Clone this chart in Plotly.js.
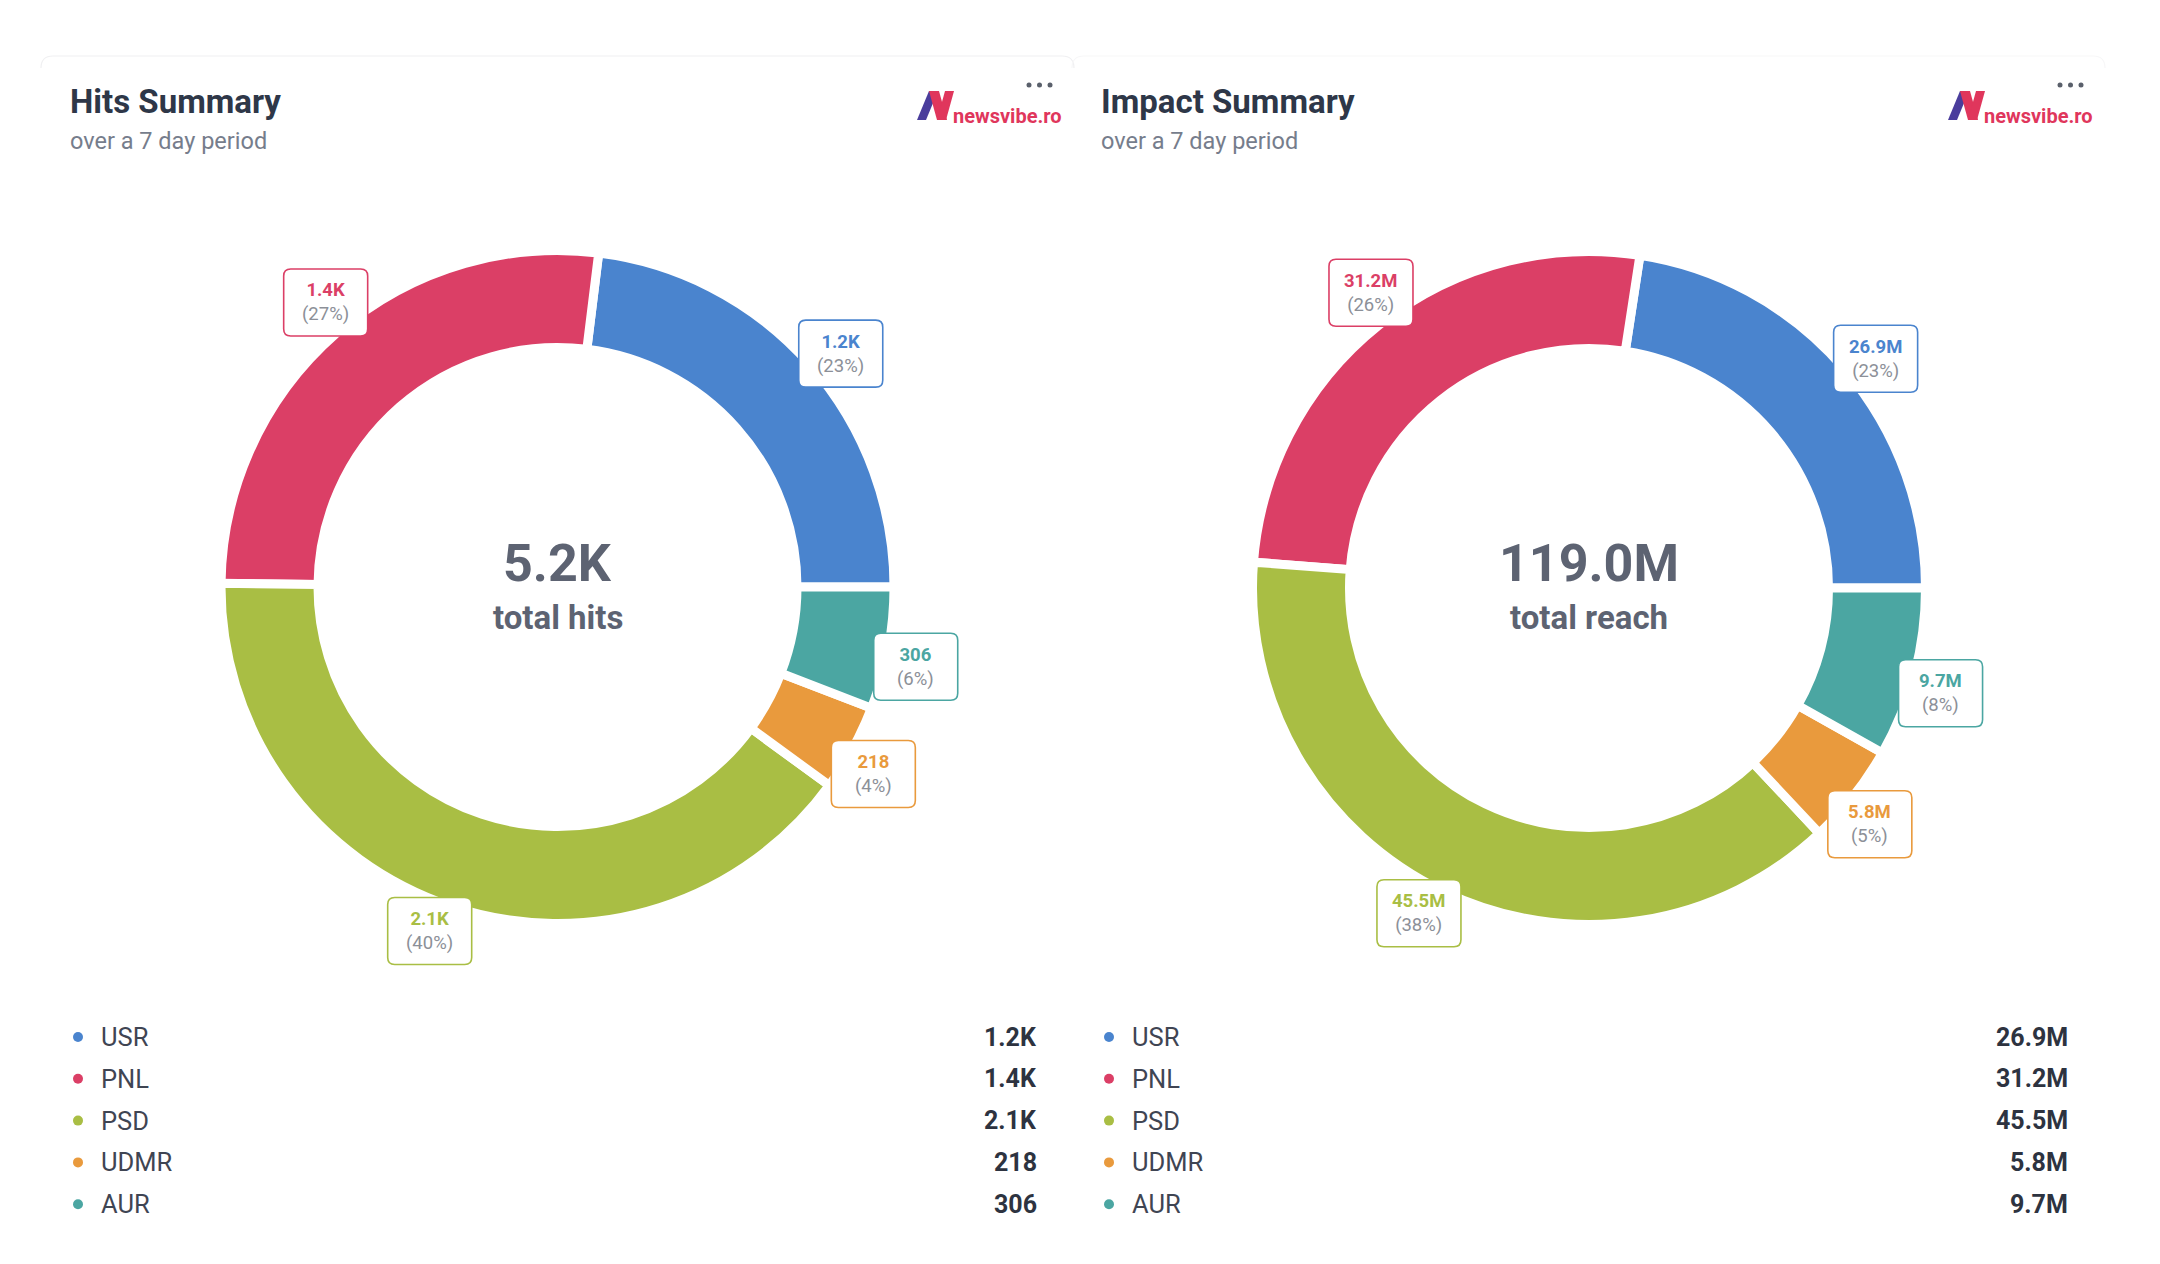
<!DOCTYPE html>
<html>
<head>
<meta charset="utf-8">
<script src="https://cdn.plot.ly/plotly-3.0.1.min.js"></script>
<style>
  html, body { margin: 0; padding: 0; background: #ffffff; }
  #chart { width: 2160px; height: 1264px; }
</style>
</head>
<body>
<div id="chart"></div>
<script>
// ---------- data ----------
const categories = ['USR', 'PNL', 'PSD', 'UDMR', 'AUR'];
const partyColors = ['#4A84CE', '#DB3F66', '#A9BE44', '#E99A3D', '#4BA6A2'];

const hitsTitle = 'Hits Summary';
const hitsSubtitle = 'over a 7 day period';
const hitsValues = [1203, 1398, 2095, 218, 306];
const hitsCenterCaption = 'total hits';

const impactTitle = 'Impact Summary';
const impactSubtitle = 'over a 7 day period';
const impactValues = [26.87, 31.17, 45.48, 5.77, 9.70];   // millions
const impactCenterCaption = 'total reach';

const logoText = 'newsvibe.ro';

// ---------- helpers ----------
const W = 2160, H = 1264;
const FONT = 'Roboto, "Noto Sans", "DejaVu Sans", sans-serif';
const px = x => x / W;
const py = y => 1 - y / H;

function fmtHits(v) { return v >= 1000 ? (v / 1000).toFixed(1) + 'K' : String(Math.round(v)); }
function fmtImpact(v) { return v.toFixed(1) + 'M'; }

const panels = [
  { title: hitsTitle, subtitle: hitsSubtitle, values: hitsValues, fmt: fmtHits,
    caption: hitsCenterCaption, offset: 0, cx: 557.5, cy: 587, cardLine: '#F0F0F2' },
  { title: impactTitle, subtitle: impactSubtitle, values: impactValues, fmt: fmtImpact,
    caption: impactCenterCaption, offset: 1031, cx: 1589, cy: 588, cardLine: '#F7F7F8' }
];

const R = 332;          // visible outer radius (px)
const RIN = 244;        // visible inner radius (px)
const GAP = 9;          // white gap between slices
const LABEL_R = 367;    // label box centre distance

const traces = [];
const annotations = [];
const shapes = [];

function roundRectPath(hw, hh, r) {
  return `M ${-hw + r},${-hh} L ${hw - r},${-hh} Q ${hw},${-hh} ${hw},${-hh + r} ` +
         `L ${hw},${hh - r} Q ${hw},${hh} ${hw - r},${hh} L ${-hw + r},${hh} ` +
         `Q ${-hw},${hh} ${-hw},${hh - r} L ${-hw},${-hh + r} Q ${-hw},${-hh} ${-hw + r},${-hh} Z`;
}

panels.forEach(p => {
  const Rd = R + GAP / 2;
  const hole = (RIN - GAP / 2) / Rd;
  const total = p.values.reduce((a, b) => a + b, 0);
  // plotly's counterclockwise mode puts the first slice clockwise of `rotation`;
  // shift so the first slice starts at 3 o'clock and runs counterclockwise.
  const rot = 90 - 360 * p.values[0] / total;
  traces.push({
    type: 'pie',
    labels: categories,
    values: p.values,
    sort: false,
    direction: 'counterclockwise',
    rotation: rot,
    hole: hole,
    textinfo: 'none',
    hoverinfo: 'label+value+percent',
    showlegend: false,
    marker: { colors: partyColors, line: { color: '#ffffff', width: GAP } },
    domain: { x: [px(p.cx - Rd), px(p.cx + Rd)], y: [py(p.cy + Rd), py(p.cy - Rd)] }
  });

  // centre text
  annotations.push({ xref: 'paper', yref: 'paper', x: px(p.cx), y: py(564), xanchor: 'center', yanchor: 'middle',
    text: '<b>' + p.fmt(total) + '</b>', showarrow: false, font: { family: FONT, size: 52, color: '#5D6372' } });
  annotations.push({ xref: 'paper', yref: 'paper', x: px(p.cx), y: py(617), xanchor: 'center', yanchor: 'middle',
    text: '<b>' + p.caption + '</b>', showarrow: false, font: { family: FONT, size: 33, color: '#5D6372' } });

  // slice labels
  let cum = 0;
  p.values.forEach((v, i) => {
    const midFrac = (cum + v / 2) / total;
    cum += v;
    const ang = (midFrac * 360 - 2) * Math.PI / 180;   // counterclockwise from 3 o'clock
    const lx = p.cx + LABEL_R * Math.cos(ang);
    const ly = p.cy - LABEL_R * Math.sin(ang);
    const pct = Math.round(v / total * 100);
    shapes.push({ type: 'path', xref: 'paper', yref: 'paper', xsizemode: 'pixel', ysizemode: 'pixel',
      xanchor: px(lx), yanchor: py(ly), path: roundRectPath(42, 33.5, 7),
      fillcolor: '#ffffff', line: { color: partyColors[i], width: 1.6 }, layer: 'above' });
    annotations.push({ xref: 'paper', yref: 'paper', x: px(lx), y: py(ly), xanchor: 'center', yanchor: 'middle',
      showarrow: false, align: 'center',
      text: `<b><span style="color:${partyColors[i]}">${p.fmt(v)}</span></b><br><span style="color:#8C9098">(${pct}%)</span>`,
      font: { family: FONT, size: 18.5, color: '#8C9098' } });
  });

  // header
  annotations.push({ xref: 'paper', yref: 'paper', x: px(68 + p.offset), y: py(101.5), xanchor: 'left', yanchor: 'middle',
    text: '<b>' + p.title + '</b>', showarrow: false, font: { family: FONT, size: 33, color: '#2E3748' } });
  annotations.push({ xref: 'paper', yref: 'paper', x: px(68 + p.offset), y: py(141), xanchor: 'left', yanchor: 'middle',
    text: p.subtitle, showarrow: false, font: { family: FONT, size: 23.5, color: '#767D8C' } });

  // logo
  annotations.push({ xref: 'paper', yref: 'paper', x: px(951 + p.offset), y: py(116), xanchor: 'left', yanchor: 'middle',
    text: '<b>' + logoText + '</b>', showarrow: false, font: { family: FONT, size: 20, color: '#E0365C' } });
  const lgx = px(935 + p.offset), lgy = py(105.5);
  const logoParts = [
    { path: 'M -18,-14.5 L -9,-14.5 L 3,14.5 L -6,14.5 Z', color: '#4A3D9C' },
    { path: 'M -6,14.5 L 4,14.5 L 12,-14.5 L 2,-14.5 Z', color: '#E0365C' },
    { path: 'M 2,-14.5 L 11,-14.5 L 19,14.5 L 10,14.5 Z', color: '#E0365C' }
  ];
  logoParts.forEach(lp => shapes.push({ type: 'path', xref: 'paper', yref: 'paper', xsizemode: 'pixel', ysizemode: 'pixel',
    xanchor: lgx, yanchor: lgy, path: lp.path, fillcolor: lp.color, line: { width: 0 }, layer: 'above' }));

  // "..." menu dots
  [1029, 1039.5, 1050].forEach(dx => shapes.push({ type: 'circle', xref: 'paper', yref: 'paper',
    xsizemode: 'pixel', ysizemode: 'pixel', xanchor: px(dx + p.offset), yanchor: py(85),
    x0: -2.5, x1: 2.5, y0: -2.5, y1: 2.5, fillcolor: '#5A606B', line: { width: 0 } }));

  // faint card top edge
  shapes.push({ type: 'path', xref: 'paper', yref: 'paper',
    path: `M ${px(41 + p.offset)},${py(68)} Q ${px(41 + p.offset)},${py(56)} ${px(53 + p.offset)},${py(56)} ` +
          `L ${px(1062 + p.offset)},${py(56)} Q ${px(1074 + p.offset)},${py(56)} ${px(1074 + p.offset)},${py(68)}`,
    line: { color: p.cardLine, width: 1.2 } });

  // legend list
  categories.forEach((c, i) => {
    const ry = 1037 + i * 41.8;
    shapes.push({ type: 'circle', xref: 'paper', yref: 'paper', xsizemode: 'pixel', ysizemode: 'pixel',
      xanchor: px(78 + p.offset), yanchor: py(ry), x0: -5, x1: 5, y0: -5, y1: 5,
      fillcolor: partyColors[i], line: { width: 0 } });
    annotations.push({ xref: 'paper', yref: 'paper', x: px(99 + p.offset), y: py(ry), xanchor: 'left', yanchor: 'middle',
      text: c, showarrow: false, font: { family: FONT, size: 25.5, color: '#3F4553' } });
    annotations.push({ xref: 'paper', yref: 'paper', x: px(1039 + p.offset), y: py(ry), xanchor: 'right', yanchor: 'middle',
      text: '<b>' + p.fmt(p.values[i]) + '</b>', showarrow: false, font: { family: FONT, size: 25, color: '#2D3340' } });
  });
});

const layout = {
  width: W, height: H,
  margin: { l: 0, r: 0, t: 0, b: 0 },
  paper_bgcolor: '#ffffff', plot_bgcolor: '#ffffff',
  showlegend: false,
  annotations: annotations,
  shapes: shapes,
  font: { family: FONT }
};

Plotly.newPlot('chart', traces, layout, { displayModeBar: false, staticPlot: true });
</script>
</body>
</html>
